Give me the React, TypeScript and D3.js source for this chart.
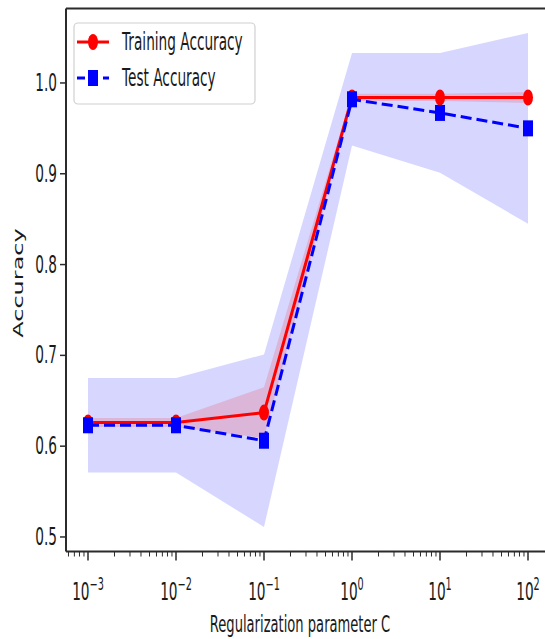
import React from "react";
import * as d3 from "d3";

// Validation curve: accuracy vs. regularization parameter C
const cValues = [0.001, 0.01, 0.1, 1, 10, 100];
const trainMean = [0.626, 0.626, 0.637, 0.984, 0.984, 0.984];
const trainStd = [0.005, 0.005, 0.028, 0.004, 0.004, 0.006];
const testMean = [0.623, 0.623, 0.606, 0.982, 0.967, 0.95];
const testStd = [0.052, 0.052, 0.095, 0.051, 0.066, 0.105];

const yTicks = [0.5, 0.6, 0.7, 0.8, 0.9, 1.0];
const xTickExps = [-3, -2, -1, 0, 1, 2];
const legendLabels = ["Training Accuracy", "Test Accuracy"];
const xLabel = "Regularization parameter C";
const yLabel = "Accuracy";

const W = 545;
const H = 639;
const SX = 0.57; // horizontal text compression
const FONT = "'DejaVu Sans', sans-serif";
const TEXT = "#1a1a1a";
const RED = "#ff0000";
const BLUE = "#0000ff";

const plot = { left: 66, right: 550, top: 8.5, bottom: 551.5 };

export default function App() {
  const x = d3
    .scaleLog()
    .domain([Math.pow(10, -3.25), Math.pow(10, 2.25)])
    .range([plot.left, plot.right]);
  const y = d3.scaleLinear().domain([0.484, 1.082]).range([plot.bottom, plot.top]);

  const idx = cValues.map((_, i) => i);
  const band = (mean: number[], std: number[]) =>
    d3
      .area<number>()
      .x((i) => x(cValues[i]))
      .y0((i) => y(mean[i] - std[i]))
      .y1((i) => y(mean[i] + std[i]))(idx) || "";
  const line = (mean: number[]) =>
    d3
      .line<number>()
      .x((i) => x(cValues[i]))
      .y((i) => y(mean[i]))(idx) || "";

  // log minor ticks (2..9 per decade)
  const minor: number[] = [];
  for (let e = -4; e <= 2; e++) {
    for (let m = 2; m <= 9; m++) {
      const v = m * Math.pow(10, e);
      const px = x(v);
      if (px >= plot.left && px <= W) minor.push(v);
    }
  }

  const sq = (tx: number, ty: number) => `translate(${tx},${ty}) scale(${SX},1)`;

  const Circle = ({ cx, cy }: { cx: number; cy: number }) => (
    <ellipse cx={cx} cy={cy} rx={5} ry={8} fill={RED} />
  );
  const Square = ({ cx, cy }: { cx: number; cy: number }) => (
    <rect x={cx - 5} y={cy - 8} width={10} height={16} fill={BLUE} />
  );

  return (
    <svg
      width={W}
      height={H}
      style={{ position: "absolute", left: 0, top: 0, background: "#fff" }}
      fontFamily={FONT}
    >
      <defs>
        <clipPath id="plotclip">
          <rect x={plot.left} y={plot.top} width={plot.right - plot.left} height={plot.bottom - plot.top} />
        </clipPath>
      </defs>

      <g clipPath="url(#plotclip)">
        <path d={band(testMean, testStd)} fill={BLUE} fillOpacity={0.16} />
        <path d={band(trainMean, trainStd)} fill={RED} fillOpacity={0.15} />
        <path d={line(trainMean)} fill="none" stroke={RED} strokeWidth={3} />
        {idx.map((i) => (
          <Circle key={"tr" + i} cx={x(cValues[i])} cy={y(trainMean[i])} />
        ))}
        <path d={line(testMean)} fill="none" stroke={BLUE} strokeWidth={3} strokeDasharray="11 5" />
        {idx.map((i) => (
          <Square key={"te" + i} cx={x(cValues[i])} cy={y(testMean[i])} />
        ))}
      </g>

      {/* spines */}
      <line x1={plot.left} x2={W} y1={plot.top} y2={plot.top} stroke="#2b2b2b" strokeWidth={2} />
      <line x1={plot.left} x2={W} y1={plot.bottom} y2={plot.bottom} stroke="#2b2b2b" strokeWidth={2} />
      <line x1={plot.left} x2={plot.left} y1={plot.top} y2={plot.bottom} stroke="#2b2b2b" strokeWidth={2} />

      {/* y axis */}
      {yTicks.map((t) => (
        <g key={"y" + t}>
          <line x1={plot.left - 6} x2={plot.left} y1={y(t)} y2={y(t)} stroke="#2b2b2b" strokeWidth={1.5} />
          <text
            transform={sq(plot.left - 9, y(t))}
            textAnchor="end"
            dominantBaseline="central"
            fontSize={24}
            fill={TEXT}
          >
            {t.toFixed(1)}
          </text>
        </g>
      ))}
      <text
        transform={`translate(18,283) scale(${SX},1) rotate(-90)`}
        textAnchor="middle"
        dominantBaseline="central"
        fontSize={24}
        fill={TEXT}
      >
        {yLabel}
      </text>

      {/* x axis */}
      {minor.map((v, i) => (
        <line key={"m" + i} x1={x(v)} x2={x(v)} y1={plot.bottom} y2={plot.bottom + 5} stroke="#2b2b2b" strokeWidth={1} />
      ))}
      {xTickExps.map((e) => {
        const px = x(Math.pow(10, e));
        return (
          <g key={"x" + e}>
            <line x1={px} x2={px} y1={plot.bottom} y2={plot.bottom + 9} stroke="#2b2b2b" strokeWidth={1.5} />
            <text transform={sq(px, 600)} textAnchor="middle" fontSize={24} fill={TEXT}>
              <tspan>10</tspan>
              <tspan fontSize={17} dy={-10}>
                {e < 0 ? "\u2212" + Math.abs(e) : String(e)}
              </tspan>
            </text>
          </g>
        );
      })}
      <text transform={sq(300, 632)} textAnchor="middle" fontSize={23} fill={TEXT}>
        {xLabel}
      </text>

      {/* legend */}
      <rect x={74} y={23} width={181} height={81} rx={4} fill="#fff" fillOpacity={0.85} stroke="#d0d0d0" strokeWidth={1.2} />
      <line x1={77} x2={109} y1={42} y2={42} stroke={RED} strokeWidth={3} />
      <Circle cx={93} cy={42} />
      <line x1={77} x2={109} y1={78} y2={78} stroke={BLUE} strokeWidth={3} strokeDasharray="8 5" />
      <Square cx={93} cy={78} />
      {legendLabels.map((s, i) => (
        <text
          key={s}
          transform={sq(122, i === 0 ? 42 : 78)}
          dominantBaseline="central"
          fontSize={24}
          fill={TEXT}
        >
          {s}
        </text>
      ))}
    </svg>
  );
}
